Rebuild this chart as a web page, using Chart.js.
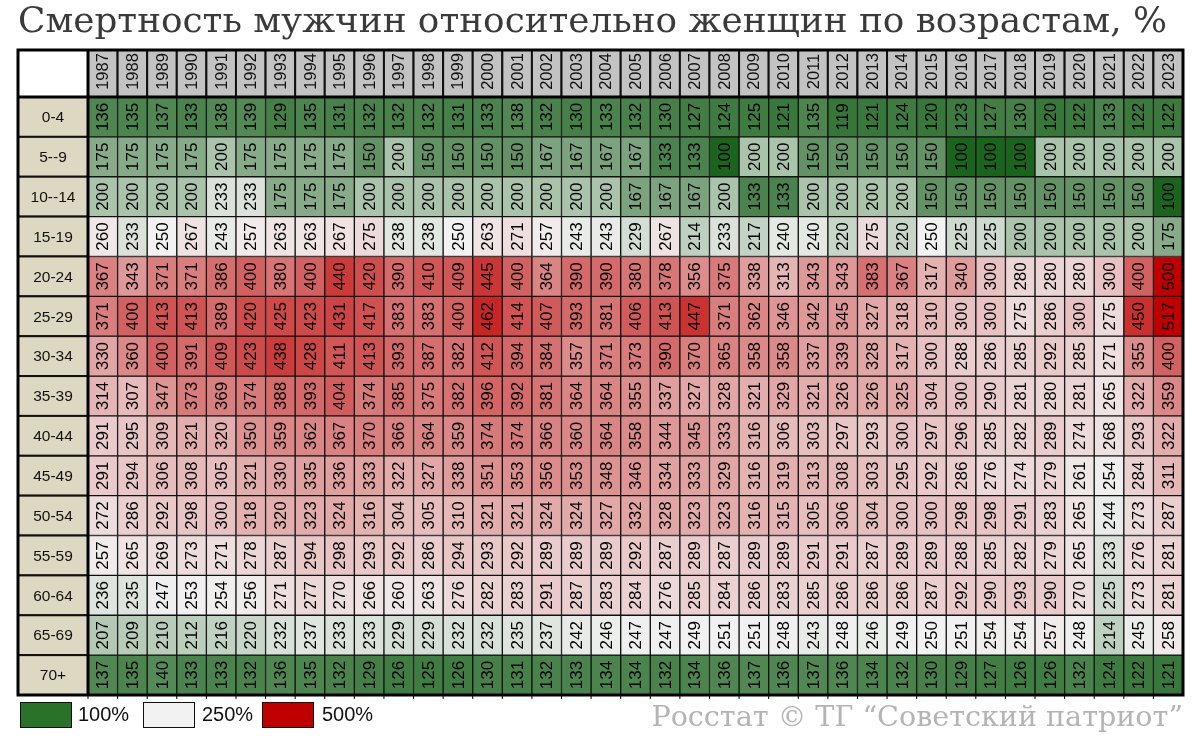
<!DOCTYPE html>
<html lang="ru">

<head>
    <meta charset="UTF-8">
    <script src="https://cdn.jsdelivr.net/npm/chart.js@4"></script>
    <title>Смертность мужчин относительно женщин</title>
    <style>
        body { margin: 0; background: #fff; }
        .painel { position: relative; width: 1200px; height: 737px; overflow: hidden; font-family: "Liberation Sans", Arial, sans-serif; }
        .painel canvas { position: absolute; left: 0; top: 0; }
        .titulo { position: absolute; left: 18px; top: -1px; margin: 0; font: 35.8px "DejaVu Serif", serif; color: #3a3a3a; white-space: nowrap; font-weight: normal; }
        .legenda { position: absolute; left: 20px; top: 702px; height: 26px; font-size: 20px; color: #111; }
        .legenda span { position: absolute; top: 0; width: 50px; height: 24px; border: 1px solid #111; }
        .legenda b { position: absolute; top: 1px; font-weight: normal; }
        .fonte { position: absolute; right: 17px; top: 699px; font: 28.6px "DejaVu Serif", serif; color: #b4b4b4; white-space: nowrap; }
    </style>
</head>

<body>
    <div class="painel">
        <canvas id="grafico" width="1200" height="737"></canvas>
        <h1 class="titulo">Смертность мужчин относительно женщин по возрастам, %</h1>
        <div class="legenda">
            <span style="left:0; background:#2a722a"></span><b style="left:58px">100%</b>
            <span style="left:123px; background:#f2f2f2"></span><b style="left:182px">250%</b>
            <span style="left:242px; background:#c00000"></span><b style="left:302px">500%</b>
        </div>
        <div class="fonte">Росстат © ТГ “Советский патриот”</div>
    </div>
</body>
<script>
    const anos = [1987, 1988, 1989, 1990, 1991, 1992, 1993, 1994, 1995, 1996, 1997, 1998, 1999,
        2000, 2001, 2002, 2003, 2004, 2005, 2006, 2007, 2008, 2009, 2010, 2011,
        2012, 2013, 2014, 2015, 2016, 2017, 2018, 2019, 2020, 2021, 2022, 2023];

    const faixas = ['0-4', '5--9', '10--14', '15-19', '20-24', '25-29', '30-34', '35-39',
        '40-44', '45-49', '50-54', '55-59', '60-64', '65-69', '70+'];

    // valores por faixa etaria, 1987..2023
    const v0a4 = [136, 135, 137, 133, 138, 139, 129, 135, 131, 132, 132, 132, 131, 133, 138, 132, 130, 133, 132, 130, 127, 124, 125, 121, 135, 119, 121, 124, 120, 123, 127, 130, 120, 122, 133, 122, 122];
    const v5a9 = [175, 175, 175, 175, 200, 175, 175, 175, 175, 150, 200, 150, 150, 150, 150, 167, 167, 167, 167, 133, 133, 100, 200, 200, 150, 150, 150, 150, 150, 100, 100, 100, 200, 200, 200, 200, 200];
    const v10a14 = [200, 200, 200, 200, 233, 233, 175, 175, 175, 200, 200, 200, 200, 200, 200, 200, 200, 200, 167, 167, 167, 200, 133, 133, 200, 200, 200, 200, 150, 150, 150, 150, 150, 150, 150, 150, 100];
    const v15a19 = [260, 233, 250, 267, 243, 257, 263, 263, 267, 275, 238, 238, 250, 263, 271, 257, 243, 243, 229, 267, 214, 233, 217, 240, 240, 220, 275, 220, 250, 225, 225, 200, 200, 200, 200, 200, 175];
    const v20a24 = [367, 343, 371, 371, 386, 400, 380, 400, 440, 420, 390, 410, 409, 445, 400, 364, 390, 390, 380, 378, 356, 375, 338, 313, 343, 343, 383, 367, 317, 340, 300, 280, 280, 280, 300, 400, 500];
    const v25a29 = [371, 400, 413, 413, 389, 420, 425, 423, 431, 417, 383, 383, 400, 462, 414, 407, 393, 381, 406, 413, 447, 371, 362, 346, 342, 345, 327, 318, 310, 300, 300, 275, 286, 300, 275, 450, 517];
    const v30a34 = [330, 360, 400, 391, 409, 423, 438, 428, 411, 413, 393, 387, 382, 412, 394, 384, 357, 371, 373, 390, 370, 365, 358, 358, 337, 339, 328, 317, 300, 288, 286, 285, 292, 285, 271, 355, 400];
    const v35a39 = [314, 307, 347, 373, 369, 374, 388, 393, 404, 374, 385, 375, 382, 396, 392, 381, 364, 364, 355, 337, 327, 328, 321, 329, 321, 326, 326, 325, 304, 300, 290, 281, 280, 281, 265, 322, 359];
    const v40a44 = [291, 295, 309, 321, 320, 350, 359, 362, 367, 370, 366, 364, 359, 374, 374, 366, 360, 364, 358, 344, 345, 333, 316, 306, 303, 297, 293, 300, 297, 296, 285, 282, 289, 274, 268, 293, 322];
    const v45a49 = [291, 294, 306, 308, 305, 321, 330, 335, 336, 333, 322, 327, 338, 351, 353, 356, 353, 348, 346, 334, 333, 329, 316, 319, 313, 308, 303, 295, 292, 286, 276, 274, 279, 261, 254, 284, 311];
    const v50a54 = [272, 286, 292, 298, 300, 318, 320, 323, 324, 316, 304, 305, 310, 321, 321, 324, 324, 327, 332, 328, 323, 323, 316, 315, 305, 306, 304, 300, 300, 298, 298, 291, 283, 265, 244, 273, 287];
    const v55a59 = [257, 265, 269, 273, 271, 278, 287, 294, 298, 293, 292, 286, 294, 293, 292, 289, 289, 289, 292, 287, 289, 287, 289, 289, 291, 291, 287, 289, 289, 288, 285, 282, 279, 265, 233, 276, 281];
    const v60a64 = [236, 235, 247, 253, 254, 256, 271, 277, 270, 266, 260, 263, 276, 282, 283, 291, 287, 283, 284, 276, 285, 284, 286, 283, 285, 286, 286, 286, 287, 292, 290, 293, 290, 270, 225, 273, 281];
    const v65a69 = [207, 209, 210, 212, 216, 220, 232, 237, 233, 233, 229, 229, 232, 232, 235, 237, 242, 246, 247, 247, 249, 251, 251, 248, 243, 248, 246, 249, 250, 251, 254, 254, 257, 248, 214, 245, 258];
    const v70mais = [137, 135, 140, 133, 133, 132, 136, 135, 132, 129, 126, 125, 126, 130, 131, 132, 133, 134, 134, 132, 134, 136, 137, 136, 137, 136, 134, 132, 130, 129, 127, 126, 126, 132, 124, 122, 121];

    const linhas = [v0a4, v5a9, v10a14, v15a19, v20a24, v25a29, v30a34, v35a39,
        v40a44, v45a49, v50a54, v55a59, v60a64, v65a69, v70mais];

    // escala de 3 cores: 100 verde, 250 branco, 500 vermelho
    const corMin = [27, 100, 30];
    const corMeio = [242, 242, 242];
    const corMax = [192, 0, 0];

    function corEscala(v) {
        let a, b, t;
        if (v <= 250) {
            a = corMin; b = corMeio; t = (v - 100) / 150;
        } else {
            a = corMeio; b = corMax; t = (v - 250) / 250;
        }
        t = Math.max(0, Math.min(1, t));
        const c = a.map((x, i) => Math.round(x + (b[i] - x) * t));
        return `rgb(${c[0]}, ${c[1]}, ${c[2]})`;
    }

    const bordaEsq = 18;
    const topoCabecalho = 50;

    const pluginGrade = {
        id: 'grade',
        afterDatasetsDraw(chart) {
            const ctx = chart.ctx;
            const area = chart.chartArea;
            const xs = chart.scales.x;
            const ys = chart.scales.y;
            const larg = xs.width / anos.length;

            ctx.save();
            // numeros nas celulas
            ctx.fillStyle = '#000';
            ctx.font = '17px "Liberation Sans", Arial, sans-serif';
            ctx.textAlign = 'center';
            ctx.textBaseline = 'middle';
            linhas.forEach((vals, r) => {
                const meta = chart.getDatasetMeta(r);
                meta.data.forEach((el, j) => {
                    const p = el.getProps(['x', 'y', 'base'], true);
                    ctx.save();
                    ctx.translate(p.x + 1, (p.y + p.base) / 2);
                    ctx.rotate(-Math.PI / 2);
                    ctx.fillText(String(vals[j]), 0, 0);
                    ctx.restore();
                });
            });

            // cabecalho dos anos
            ctx.lineWidth = 2;
            ctx.strokeStyle = '#111';
            ctx.font = '16.5px "Liberation Sans", Arial, sans-serif';
            anos.forEach((ano, j) => {
                const cx = xs.getPixelForValue(j);
                const x0 = cx - larg / 2;
                ctx.fillStyle = '#c3c3c3';
                ctx.fillRect(x0, topoCabecalho, larg, area.top - topoCabecalho);
                ctx.strokeRect(x0, topoCabecalho, larg, area.top - topoCabecalho);
                ctx.fillStyle = '#111';
                ctx.save();
                ctx.translate(cx + 1, (topoCabecalho + area.top) / 2 - 2);
                ctx.rotate(-Math.PI / 2);
                ctx.fillText(String(ano), 0, 0);
                ctx.restore();
            });

            // faixas etarias
            ctx.font = '15.5px "Liberation Sans", Arial, sans-serif';
            faixas.forEach((f, r) => {
                const y0 = ys.getPixelForValue(r);
                const y1 = ys.getPixelForValue(r + 1);
                ctx.fillStyle = '#ddd8c2';
                ctx.fillRect(bordaEsq, y0, area.left - bordaEsq, y1 - y0);
                ctx.strokeRect(bordaEsq, y0, area.left - bordaEsq, y1 - y0);
                ctx.fillStyle = '#111';
                ctx.fillText(f, (bordaEsq + area.left) / 2, (y0 + y1) / 2 + 1);
            });

            // canto vazio
            ctx.fillStyle = '#fff';
            ctx.fillRect(bordaEsq, topoCabecalho, area.left - bordaEsq, area.top - topoCabecalho);
            ctx.strokeRect(bordaEsq, topoCabecalho, area.left - bordaEsq, area.top - topoCabecalho);

            // moldura
            ctx.lineWidth = 3;
            ctx.strokeStyle = '#000';
            ctx.strokeRect(bordaEsq, topoCabecalho, area.right - bordaEsq, area.bottom - topoCabecalho);
            ctx.beginPath();
            ctx.moveTo(area.left, topoCabecalho);
            ctx.lineTo(area.left, area.bottom);
            ctx.moveTo(bordaEsq, area.top);
            ctx.lineTo(area.right, area.top);
            ctx.stroke();

            // marcas abaixo da grade
            ctx.lineWidth = 1;
            ctx.beginPath();
            anos.forEach((ano, j) => {
                const x0 = xs.getPixelForValue(j) - larg / 2;
                ctx.moveTo(x0, area.bottom);
                ctx.lineTo(x0, area.bottom + 4);
            });
            ctx.stroke();
            ctx.restore();
        }
    };

    const ctx = document.getElementById('grafico').getContext('2d');
    const grafico = new Chart(ctx, {
        type: 'bar',
        data: {
            labels: anos.map(String),
            datasets: linhas.map((vals, r) => ({
                label: faixas[r],
                data: vals.map(() => [r, r + 1]),
                backgroundColor: vals.map(corEscala),
                borderColor: '#111',
                borderWidth: 1,
                borderSkipped: false,
                barPercentage: 1,
                categoryPercentage: 1,
                grouped: false
            }))
        },
        options: {
            responsive: false,
            animation: false,
            layout: {
                padding: { left: 88, right: 17, top: 97, bottom: 42 }
            },
            plugins: {
                legend: { display: false },
                tooltip: { enabled: false }
            },
            scales: {
                x: { type: 'category', display: false, offset: true },
                y: { type: 'linear', display: false, min: 0, max: 15, reverse: true }
            }
        },
        plugins: [pluginGrade]
    });
</script>

</html>
